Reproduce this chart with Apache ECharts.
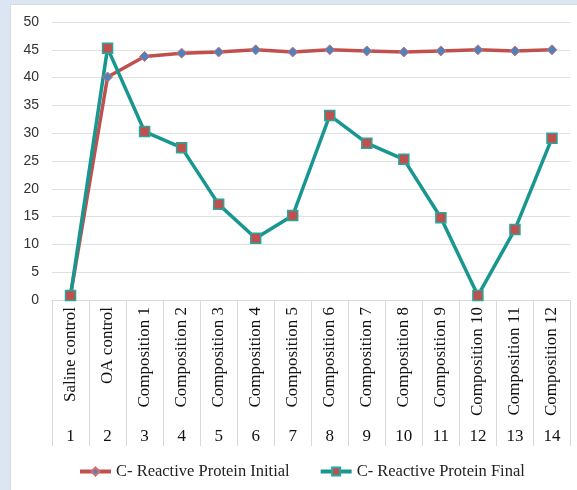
<!DOCTYPE html>
<html>
<head>
<meta charset="utf-8">
<script src="https://cdn.jsdelivr.net/npm/echarts@6/dist/echarts.min.js"></script>
<style>
  html, body { margin: 0; padding: 0; background: #dce6f2; }
  #frame { position: absolute; left: 10px; top: 4px; width: 567px; height: 486px; background: #fff; border-left: 1px solid #d9d9d9; border-top: 1px solid #d9d9d9; }
  #chart { position: absolute; left: -11px; top: -5px; width: 577px; height: 490px; }
</style>
</head>
<body>
<div id="frame"><div id="chart"></div></div>
<script>
// Groups along the category axis
const groups = ['Saline control', 'OA control', 'Composition 1', 'Composition 2', 'Composition 3',
  'Composition 4', 'Composition 5', 'Composition 6', 'Composition 7', 'Composition 8',
  'Composition 9', 'Composition 10', 'Composition 11', 'Composition 12'];
// Group numbers shown on the second label row
const groupNumbers = ['1', '2', '3', '4', '5', '6', '7', '8', '9', '10', '11', '12', '13', '14'];
// C-reactive protein levels
const crpInitial = [0.8, 40.1, 43.8, 44.4, 44.6, 45.0, 44.6, 45.0, 44.8, 44.6, 44.8, 45.0, 44.8, 45.0];
const crpFinal = [0.8, 45.3, 30.3, 27.4, 17.2, 11.1, 15.2, 33.2, 28.2, 25.3, 14.8, 0.8, 12.7, 29.1];
const yTicks = { min: 0, max: 50, interval: 5 };

const serif = '"Liberation Serif", "Times New Roman", serif';
const chart = echarts.init(document.getElementById('chart'));
chart.setOption({
  animation: false,
  grid: { left: 52, right: 6.5, top: 22, bottom: 190 },
  legend: {
    left: 73, top: 458, itemWidth: 31, itemHeight: 10, itemGap: 29,
    textStyle: { fontFamily: serif, fontSize: 16.5, color: '#222' },
    lineStyle: { width: 4 },
    data: ['C- Reactive Protein Initial', 'C- Reactive Protein Final']
  },
  xAxis: [{
    type: 'category', data: groups, boundaryGap: true,
    axisLine: { lineStyle: { color: '#d9d9d9' } },
    axisTick: { show: true, length: 146, interval: 0, lineStyle: { color: '#d9d9d9' } },
    axisLabel: { rotate: 90, interval: 0, margin: 7, fontFamily: serif, fontSize: 17, color: '#111' }
  }, {
    type: 'category', data: groupNumbers, position: 'bottom', offset: 125,
    axisLine: { show: false }, axisTick: { show: false },
    axisLabel: { interval: 0, margin: 3, fontFamily: serif, fontSize: 17, color: '#111' }
  }],
  yAxis: {
    type: 'value', min: yTicks.min, max: yTicks.max, interval: yTicks.interval,
    axisLine: { show: false }, axisTick: { show: false },
    splitLine: { lineStyle: { color: '#e0e0e0', width: 1 } },
    axisLabel: { margin: 13, fontFamily: '"Liberation Sans", Arial, sans-serif', fontSize: 14, color: '#333' }
  },
  series: [{
    name: 'C- Reactive Protein Initial', type: 'line', data: crpInitial,
    symbol: 'diamond', symbolSize: 10,
    lineStyle: { color: '#c0504d', width: 3.5 },
    itemStyle: { color: '#4f81bd', borderColor: '#d07070', borderWidth: 1 }
  }, {
    name: 'C- Reactive Protein Final', type: 'line', data: crpFinal,
    symbol: 'rect', symbolSize: 10,
    lineStyle: { color: '#17978f', width: 3.5 },
    itemStyle: { color: '#c0504d', borderColor: '#2aa59c', borderWidth: 1.5 }
  }]
});
</script>
</body>
</html>
